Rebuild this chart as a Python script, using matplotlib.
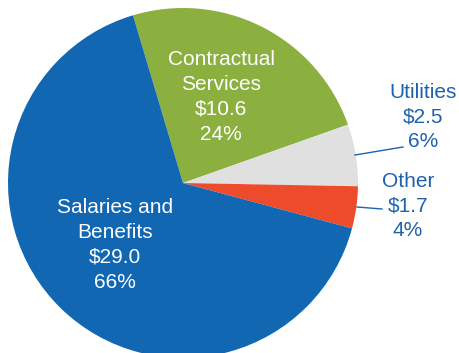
import matplotlib.pyplot as plt

# Spending breakdown, $ millions
categories = ['Contractual\nServices', 'Utilities', 'Other', 'Salaries and\nBenefits']
amounts = [10.6, 2.5, 1.7, 29.0]
percents = [24, 6, 4, 66]

colors = ['#8BB040', '#E0E0E0', '#EE4B2D', '#1167B1']
label_blue = '#1E62AB'

plt.rcParams['font.family'] = ['Liberation Sans', 'DejaVu Sans']

W, H, DPI = 459, 353, 100
cx, cy, r = 183, 183, 175  # pie centre and radius in pixels

fig = plt.figure(figsize=(W / DPI, H / DPI), dpi=DPI)
ax = fig.add_axes([0, 0, 1, 1])

ax.pie(amounts, colors=colors, startangle=106.6, counterclock=False,
       radius=1, center=(0, 0), frame=False,
       wedgeprops=dict(linewidth=0))
ax.set_xlim(-cx / r, (W - cx) / r)
ax.set_ylim(-(H - cy) / r, cy / r)
ax.set_aspect('auto')
ax.axis('off')


def px(x, y):
    return (x - cx) / r, (cy - y) / r


def label(i):
    return f'{categories[i]}\n${amounts[i]:.1f}\n{percents[i]}%'


fs = 15
ls = 1.38
ax.text(*px(221, 97), label(0), color='white', fontsize=fs,
        ha='center', va='center', linespacing=ls)
ax.text(*px(115, 245), label(3), color='white', fontsize=fs,
        ha='center', va='center', linespacing=ls)
ax.text(*px(423, 117), label(1), color=label_blue, fontsize=fs,
        ha='center', va='center', linespacing=ls)
ax.text(*px(408, 206), label(2), color=label_blue, fontsize=fs,
        ha='center', va='center', linespacing=ls)

# leader lines for the two small slices
ax.plot(*zip(px(355, 155), px(403, 147)), color=label_blue, lw=1)
ax.plot(*zip(px(357, 207), px(382, 209)), color=label_blue, lw=1)

fig.savefig('out.png', dpi=DPI)
